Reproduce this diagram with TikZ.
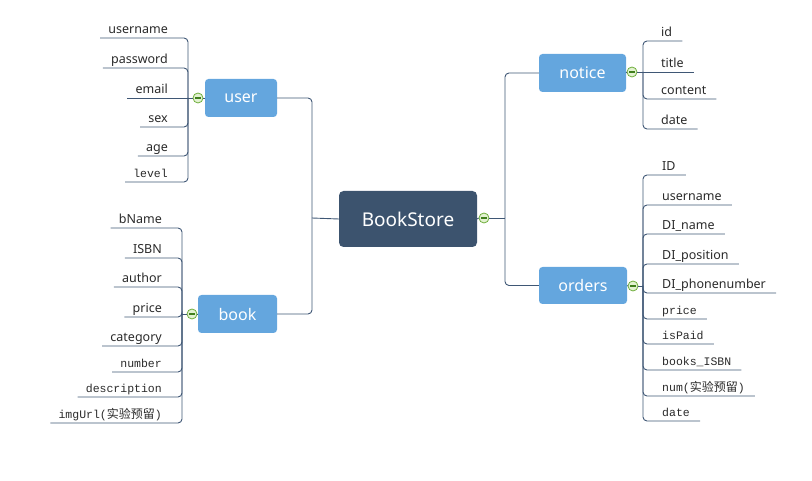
\documentclass[tikz,border=0pt]{standalone}
\usepackage{fontspec}
\setmainfont{Noto Sans}
\newfontfamily\cjk{Noto Sans CJK SC}
\newfontfamily\monof{Liberation Mono}
\definecolor{linec}{HTML}{3F5775}
\definecolor{boxblue}{HTML}{64A6DE}
\definecolor{rootc}{HTML}{3C536E}
\definecolor{mgreen}{HTML}{6FAE3C}
\definecolor{mfill}{HTML}{E3F2D2}
\definecolor{mdark}{HTML}{3F7F1C}
\definecolor{leafc}{HTML}{2A2A2A}
\begin{document}
\begin{tikzpicture}[x=1pt,y=-1pt,
  conn/.style={draw=linec, line width=0.9pt, rounded corners=4pt},
  topic/.style={fill=boxblue, rounded corners=3.5pt, text=white, inner sep=0pt,
    font=\fontsize{16}{18}\selectfont},
  root/.style={fill=rootc, rounded corners=4.5pt, text=white, inner sep=0pt,
    font=\fontsize{19}{22}\selectfont},
  minus/.style={circle, draw=mgreen, fill=mfill, line width=0.8pt, minimum size=10pt, inner sep=0pt,
    path picture={\draw[mdark, line width=1.1pt] ([xshift=-3pt]path picture bounding box.center) -- ([xshift=3pt]path picture bounding box.center);}},
  leaf/.style={inner ysep=1.5pt, text height=9.5pt, text depth=3.2pt, text=leafc,
    font=\fontsize{12.5}{14}\selectfont},
  leafL/.style={leaf, anchor=south east, inner xsep=8pt},
  leafR/.style={leaf, anchor=south west, inner xsep=10pt},
  mono/.style={font=\monof\fontsize{11.5}{13}\selectfont},
]
\useasboundingbox (0,0) rectangle (812,481);

% root
\node[root, minimum width=138pt, minimum height=56pt] (bs) at (408,219) {BookStore};
\node[minus] (bsm) at (484,218) {};
\coordinate (tl) at (312,218);
\coordinate (tr) at (505,218);

% topics
\node[topic, minimum width=72pt, minimum height=38pt] (user) at (241,98) {user};
\node[topic, minimum width=79pt, minimum height=38pt] (book) at (237.5,314) {book};
\node[topic, minimum width=87pt, minimum height=38pt] (notice) at (582.5,73) {notice};
\node[topic, minimum width=88pt, minimum height=37pt] (orders) at (583,285.5) {orders};

% trunk connectors
\draw[conn] (bs.west) -- (tl);
\draw[conn] (user.east) -| (tl);
\draw[conn] (book.east) -| (tl);
\draw[conn] (bs.east) -- (bsm.west);
\draw[conn] (bsm.east) -- (tr);
\draw[conn] (notice.west) -| (tr);
\draw[conn] (orders.west) -| (tr);

% minus icons and brackets
\node[minus] (um) at (198,98) {};
\node[minus] (bm) at (192,314) {};
\node[minus] (nm) at (632,72) {};
\node[minus] (om) at (633,286) {};
\coordinate (ub) at (188,98);
\coordinate (bb) at (182,314);
\coordinate (nb) at (643,72);
\coordinate (ob) at (643,286);
\draw[conn] (user.west) -- (um.east);
\draw[conn] (um.west) -- (ub);
\draw[conn] (book.west) -- (bm.east);
\draw[conn] (bm.west) -- (bb);
\draw[conn] (notice.east) -- (nm.west);
\draw[conn] (nm.east) -- (nb);
\draw[conn] (orders.east) -- (om.west);
\draw[conn] (om.east) -- (ob);

% user leaves
\node[leafL] (u1) at (176,38) {username};
\node[leafL] (u2) at (176,68) {password};
\node[leafL] (u3) at (176,98) {email};
\node[leafL] (u4) at (176,127) {sex};
\node[leafL] (u5) at (176,156) {age};
\node[leafL,mono] (u6) at (176,182) {level};
\foreach \n in {u1,u2,u4,u5,u6} \draw[conn] (ub) |- (\n.south west);
\draw[conn] (ub) -- (u3.south west);

% book leaves
\node[leafL] (b1) at (170,228) {bName};
\node[leafL] (b2) at (170,258) {ISBN};
\node[leafL] (b3) at (170,287) {author};
\node[leafL] (b4) at (170,317) {price};
\node[leafL] (b5) at (170,346) {category};
\node[leafL,mono] (b6) at (170,372) {number};
\node[leafL,mono] (b7) at (170,397) {description};
\node[leafL,mono] (b8) at (170,423) {imgUrl({\cjk\fontsize{12}{13}\selectfont 实验预留})};
\foreach \n in {b1,b2,b3,b4,b5,b6,b7,b8} \draw[conn] (bb) |- (\n.south west);

% notice leaves
\node[leafR] (n1) at (651,41) {id};
\node[leafR] (n2) at (651,72) {title};
\node[leafR] (n3) at (651,99) {content};
\node[leafR] (n4) at (651,129) {date};
\foreach \n in {n1,n3,n4} \draw[conn] (nb) |- (\n.south east);
\draw[conn] (nb) -- (n2.south east);

% orders leaves
\node[leafR] (o1) at (652,175) {ID};
\node[leafR] (o2) at (652,205) {username};
\node[leafR] (o3) at (652,234) {DI\_name};
\node[leafR] (o4) at (652,264) {DI\_position};
\node[leafR] (o5) at (652,293) {DI\_phonenumber};
\node[leafR,mono] (o6) at (652,319) {price};
\node[leafR,mono] (o7) at (652,344) {isPaid};
\node[leafR,mono] (o8) at (652,370) {books\_ISBN};
\node[leafR,mono] (o9) at (652,396) {num({\cjk\fontsize{12}{13}\selectfont 实验预留})};
\node[leafR,mono] (o10) at (652,421) {date};
\foreach \n in {o1,o2,o3,o4,o5,o6,o7,o8,o9,o10} \draw[conn] (ob) |- (\n.south east);
\end{tikzpicture}
\end{document}
